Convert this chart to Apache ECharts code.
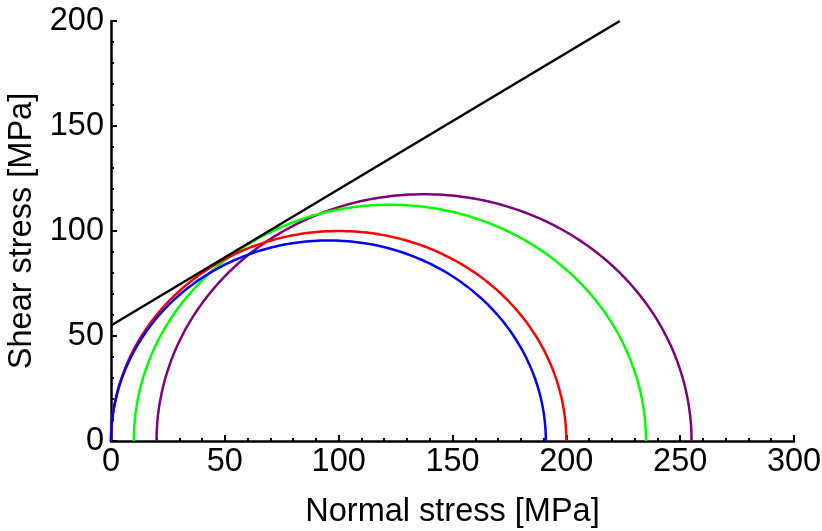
<!DOCTYPE html>
<html lang="en">
<head>
    <meta charset="UTF-8">
    <title>Mohr circles</title>
    <script src="https://cdn.jsdelivr.net/npm/echarts@6/dist/echarts.min.js"></script>
    <style>
        html, body { margin: 0; padding: 0; background: #fff; }
        #chart { width: 822px; height: 531px; }
    </style>
</head>
<body>
    <div id="chart"></div>
    <script>
        // principal stresses of each test (MPa)
        var sigma3 = [0, 0, 10, 20];
        var sigma1 = [191, 200, 235, 255];
        var circleColors = ['#0000ff', '#ff0000', '#00ff00', '#800080'];

        // failure envelope (MPa)
        var envX = [0, 223.5];
        var envY = [55, 200];

        var xTicks = [0, 50, 100, 150, 200, 250, 300];
        var yTicks = [0, 50, 100, 150, 200];

        var font = 'Liberation Sans, Arial, sans-serif';
        var fs = 32.5;

        function circleSeries (i) {
            return {
                type: 'custom',
                coordinateSystem: 'cartesian2d',
                silent: true,
                data: [[sigma3[i], sigma1[i]]],
                encode: { x: [0, 1] },
                renderItem: function (params, api) {
                    var s3 = api.value(0), s1 = api.value(1);
                    var c = (s1 + s3) / 2, r = (s1 - s3) / 2;
                    var pts = [];
                    for (var k = 0; k <= 180; k++) {
                        var a = Math.PI * k / 180;
                        pts.push(api.coord([c + r * Math.cos(a), r * Math.sin(a)]));
                    }
                    return {
                        type: 'polyline',
                        shape: { points: pts },
                        style: { stroke: circleColors[i], lineWidth: 2.5, fill: null }
                    };
                },
                z: 3
            };
        }

        var chart = echarts.init(document.getElementById('chart'));

        var series = [circleSeries(3), circleSeries(2), circleSeries(1), circleSeries(0)];
        series.push({
            type: 'line',
            data: envX.map(function (x, i) { return [x, envY[i]]; }),
            showSymbol: false,
            lineStyle: { color: '#000', width: 2.5 },
            silent: true,
            z: 4
        });

        var option = {
            animation: false,
            grid: { left: 111, right: 28, top: 21, bottom: 90, containLabel: false, outerBoundsMode: 'none' },
            xAxis: {
                type: 'value',
                min: 0, max: 300, interval: 50,
                name: 'Normal stress [MPa]',
                nameLocation: 'middle',
                nameGap: 55,
                nameTextStyle: { fontFamily: font, fontSize: fs, color: '#000' },
                axisLine: { lineStyle: { color: '#000', width: 2.5 } },
                axisTick: { inside: true, length: 6, lineStyle: { color: '#000', width: 2 } },
                minorTick: { show: true, splitNumber: 5, length: 3, lineStyle: { color: '#000', width: 2 } },
                splitLine: { show: false },
                axisLabel: {
                    fontFamily: font, fontSize: fs, color: '#000', margin: 5,
                    formatter: function (v) { return xTicks.indexOf(v) >= 0 ? String(v) : ''; }
                }
            },
            yAxis: {
                type: 'value',
                min: 0, max: 200, interval: 50,
                name: 'Shear stress [MPa]',
                nameLocation: 'middle',
                nameGap: 64,
                nameTextStyle: { fontFamily: font, fontSize: fs, color: '#000' },
                axisLine: { show: true, lineStyle: { color: '#000', width: 2.5 } },
                axisTick: { show: true, inside: true, length: 6, lineStyle: { color: '#000', width: 2 } },
                minorTick: { show: true, splitNumber: 5, length: 3, lineStyle: { color: '#000', width: 2 } },
                splitLine: { show: false },
                axisLabel: {
                    fontFamily: font, fontSize: fs, color: '#000', margin: 7,
                    formatter: function (v) { return yTicks.indexOf(v) >= 0 ? String(v) : ''; }
                }
            },
            series: series
        };

        chart.setOption(option);
    </script>
</body>
</html>
